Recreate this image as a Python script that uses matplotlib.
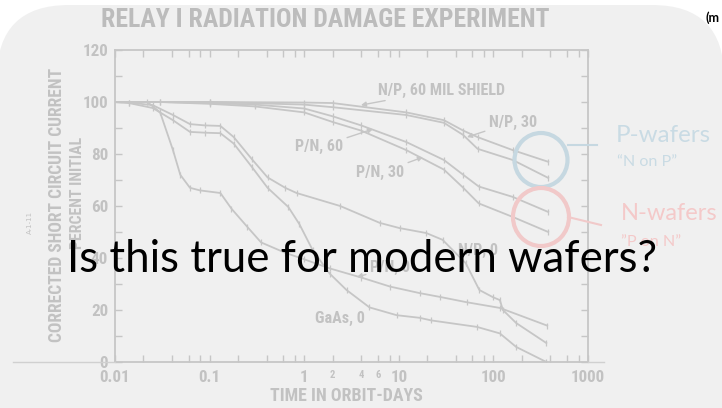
import matplotlib
matplotlib.use("Agg")
import matplotlib.pyplot as plt
from matplotlib import font_manager as fm
from matplotlib.font_manager import FontProperties
from matplotlib.patches import FancyBboxPatch, Ellipse
from matplotlib.ticker import FixedLocator, NullFormatter

W, H = 722, 408

# curves: time in orbit (days) vs % of initial Isc
np60_days = [0.01, 0.1, 1, 2, 12, 30, 48, 68, 160, 380]
np60_vals = [100, 100, 99.8, 99.6, 96, 93, 89, 86.5, 81.5, 77]
np30_days = [0.01, 0.1, 1, 2, 12, 30, 48, 68, 160, 380]
np30_vals = [100, 100, 99, 98, 95, 92, 87.3, 82, 77.7, 70.8]
pn60_days = [0.01, 0.03, 0.1, 0.3, 1, 2, 4, 12, 30, 48, 70, 160, 380]
pn60_vals = [100, 100, 99.6, 99, 97.5, 94.5, 91, 84.6, 77.7, 72, 67.5, 63.5, 57.7]
pn30_days = [0.01, 0.03, 0.1, 0.3, 1, 2, 4, 12, 30, 48, 70, 160, 380]
pn30_vals = [100, 100, 99.3, 98.3, 96, 92.3, 89, 81.5, 74, 67, 61, 55.8, 50]
np0_days = [0.01, 0.014, 0.025, 0.041, 0.062, 0.089, 0.13, 0.18, 0.28, 0.41, 0.63,
            0.83, 2.4, 6.3, 10.2, 19.5, 29, 51, 71, 98, 117, 126, 174, 363]
np0_vals = [100, 99.8, 98.8, 95, 91.5, 91, 90.8, 86.5, 78, 71, 67,
            65, 60, 53.5, 51.5, 49.6, 47, 38, 27.7, 25, 23.8, 20, 15, 7.3]
pn0_days = [0.01, 0.022, 0.03, 0.041, 0.049, 0.062, 0.079, 0.13, 0.17, 0.25, 0.35,
            0.63, 1.0, 1.86, 4, 8.1, 16.6, 27.5, 52, 117, 370]
pn0_vals = [100, 100, 96, 81.5, 72, 67, 66, 65, 59, 52, 46,
            42, 39.5, 36, 32.5, 29, 26.5, 25, 23, 20.8, 14]
gaas_days = [0.01, 0.014, 0.025, 0.041, 0.062, 0.089, 0.13, 0.18, 0.28, 0.41, 0.68,
             0.89, 1.23, 1.86, 2.8, 4.9, 9.5, 16.6, 22, 67, 117, 174, 363]
gaas_vals = [100, 99.6, 97.7, 93, 88.5, 88.2, 88, 84, 75, 67, 59.6,
             53, 43, 34, 27.7, 21, 18, 17, 16, 13.5, 11, 5.8, 0]

x_ticks = [0.01, 0.1, 1, 10, 100, 1000]
x_labels = ["0.01", "0.1", "1", "10", "100", "1000"]
x_extra = [2, 4, 6]
y_ticks = [0, 20, 40, 60, 80, 100, 120]

GRAY = "#c2c2c2"
LINE = "#c6c6c6"
SLIDE = ["Lato", "DejaVu Sans"]


def narrow_bold():
    # the scan uses a bold condensed face; take whatever condensed bold is installed
    entries = fm.fontManager.ttflist
    for want in ("Liberation Sans Narrow", "DejaVu Sans Condensed",
                 "Noto Sans Condensed", "Roboto Condensed"):
        for f in entries:
            if f.name == want and f.weight in ("bold", 700) and "Italic" not in f.fname:
                return FontProperties(fname=f.fname)
    for f in entries:
        if ("condensed" in str(f.stretch) or "Condensed" in f.fname or "Narrow" in f.fname) \
                and f.weight in ("bold", 700) and "Italic" not in f.fname \
                and "Oblique" not in f.fname and "Semi" not in f.fname:
            return FontProperties(fname=f.fname)
    return FontProperties(family=["Roboto", "DejaVu Sans"], weight="bold")


NARROW = narrow_bold()

fig = plt.figure(figsize=(W / 100, H / 100), dpi=100)
fig.patch.set_facecolor("white")
rend = fig.canvas.get_renderer()


def fit(t, target, vertical=False):
    bb = t.get_window_extent(renderer=rend)
    w = bb.height if vertical else bb.width
    t.set_fontsize(t.get_fontsize() * target / w)
    return t.get_fontsize()


# slide background (pixel coordinates)
bg = fig.add_axes([0, 0, 1, 1], zorder=0)
bg.set_xlim(0, W)
bg.set_ylim(H, 0)
bg.axis("off")
bg.add_patch(FancyBboxPatch((-3, 5), W + 5, H + 80,
                            boxstyle="round,pad=0,rounding_size=72",
                            fc="#f0f0f0", ec="none"))

# chart
ax = fig.add_axes([115 / W, 1 - 362 / H, 473 / W, 312 / H], zorder=2)
ax.set_facecolor("none")
curves = [(np60_days, np60_vals), (np30_days, np30_vals), (pn60_days, pn60_vals),
          (pn30_days, pn30_vals), (np0_days, np0_vals), (pn0_days, pn0_vals),
          (gaas_days, gaas_vals)]
for d, v in curves:
    ax.plot(d, v, color=LINE, lw=1.3, marker="|", ms=4, mew=0.9,
            markevery=slice(1, None))

ax.set_xscale("log")
ax.set_xlim(0.01, 1000)
ax.set_ylim(0, 120)
ax.xaxis.set_major_locator(FixedLocator(x_ticks))
ax.set_xticklabels(x_labels)
ax.xaxis.set_minor_locator(FixedLocator(
    [m * 10.0 ** e for e in range(-2, 3) for m in (2, 4, 6, 8)]))
ax.xaxis.set_minor_formatter(NullFormatter())
ax.set_yticks(y_ticks)
ax.set_yticks([10, 30, 50, 70, 90, 110], minor=True)
ax.tick_params(which="both", direction="in", length=5, width=1, color=LINE,
               top=True, right=True, labelcolor=GRAY)
ax.tick_params(axis="x", pad=6)
ax.tick_params(axis="y", pad=5)
for s in ax.spines.values():
    s.set_color(LINE)
    s.set_linewidth(1.3)

probe = fig.text(0, 0, "120", fontproperties=NARROW, fontsize=13)
tick_size = fit(probe, 26)
probe.remove()
for lab in ax.get_xticklabels() + ax.get_yticklabels():
    lab.set_fontproperties(NARROW)
    lab.set_fontsize(tick_size)

for xv in x_extra:
    ax.text(xv, -0.025, str(xv), transform=ax.get_xaxis_transform(), ha="center",
            va="top", fontproperties=NARROW, fontsize=tick_size * 0.62, color=GRAY)

arr_kw = dict(arrowstyle="-|>", color=LINE, lw=1, mutation_scale=7,
              shrinkA=1, shrinkB=0)
shield = ax.annotate("N/P, 60 MIL SHIELD", xy=(3.98, 98.8), xytext=(6.0, 104.6),
                     ha="left", va="center", arrowprops=arr_kw,
                     fontproperties=NARROW, fontsize=11, color=GRAY)
lab_size = fit(shield, 145)
lab_kw = dict(color=GRAY, fontproperties=NARROW, fontsize=lab_size)
ax.annotate("N/P, 30", xy=(52.6, 86.5), xytext=(89.8, 92.3),
            ha="left", va="center", arrowprops=arr_kw, **lab_kw)
ax.annotate("P/N, 60", xy=(5.33, 89.6), xytext=(2.57, 82.7),
            ha="right", va="center", arrowprops=arr_kw, **lab_kw)
ax.annotate("P/N, 30", xy=(18.0, 78.8), xytext=(11.35, 72.7),
            ha="right", va="center", arrowprops=arr_kw, **lab_kw)
ax.annotate("P/N, 0", xy=(3.61, 32.7), xytext=(4.97, 36.2),
            ha="left", va="center", arrowprops=arr_kw, **lab_kw)
ax.text(68.7, 42.7, "N/P, 0", ha="center", va="center", **lab_kw)
ax.text(2.39, 16.9, "GaAs, 0", ha="center", va="center", **lab_kw)

# overlay in pixel coordinates
ov = fig.add_axes([0, 0, 1, 1], zorder=5)
ov.set_xlim(0, W)
ov.set_ylim(H, 0)
ov.axis("off")
ov.patch.set_alpha(0)

title = ov.text(325, 20, "RELAY I RADIATION DAMAGE EXPERIMENT", ha="center",
                va="center", fontproperties=NARROW, fontsize=17, color="#bcbcbc")
fit(title, 449)
yl1 = ov.text(57, 205, "CORRECTED SHORT CIRCUIT CURRENT", rotation=90, ha="center",
              va="center", fontproperties=NARROW, fontsize=12, color=GRAY)
fit(yl1, 275, vertical=True)
yl2 = ov.text(77, 193, "PERCENT INITIAL", rotation=90, ha="center", va="center",
              fontproperties=NARROW, fontsize=10, color=GRAY)
fit(yl2, 112, vertical=True)
ov.text(30, 222, "A-1-11", rotation=90, ha="center", va="center",
        fontsize=5, color=GRAY)
xl = ov.text(346, 396, "TIME IN ORBIT-DAYS", ha="center", va="center",
             fontproperties=NARROW, fontsize=12, color=GRAY)
fit(xl, 152)
ov.plot([13, 115], [362, 362], color="#d0d0d0", lw=1)
ov.plot([588, 604], [362, 362], color="#d0d0d0", lw=1)

BLUE = "#c6d8e1"
PINK = "#f1c9c9"
ov.add_patch(Ellipse((541, 160), 53, 54, fill=False, ec=BLUE, lw=3))
ov.plot([568, 597], [145, 145], color=BLUE, lw=1.5)
ov.add_patch(Ellipse((541, 217), 56, 58, fill=False, ec=PINK, lw=3))
ov.plot([568, 601], [217, 225], color=PINK, lw=1.5)

pw = ov.text(616, 135, "P-wafers", ha="left", va="center", fontsize=16,
             color="#c9dbe4", family=SLIDE)
fit(pw, 95)
nop = ov.text(617, 162, "\u201cN on P\u201d", ha="left", va="center", fontsize=10,
              color="#c9dbe4", family=SLIDE)
fit(nop, 60)
nw = ov.text(621, 214, "N-wafers", ha="left", va="center", fontsize=16,
             color="#f4c9c9", family=SLIDE)
fit(nw, 97)
pon = ov.text(621, 242, "\u201dP on N\u201d", ha="left", va="center", fontsize=10,
              color="#f4c9c9", family=SLIDE)
fit(pon, 60)

big = ov.text(362, 272, "Is this true for modern wafers?", ha="center", va="baseline",
              fontsize=32, color="black", family=SLIDE, zorder=10)
fit(big, 591)
ov.text(706, 18, "(m", ha="left", va="center", fontsize=9, fontweight="bold",
        color="black", family=SLIDE)

fig.savefig("out.png", dpi=100)
